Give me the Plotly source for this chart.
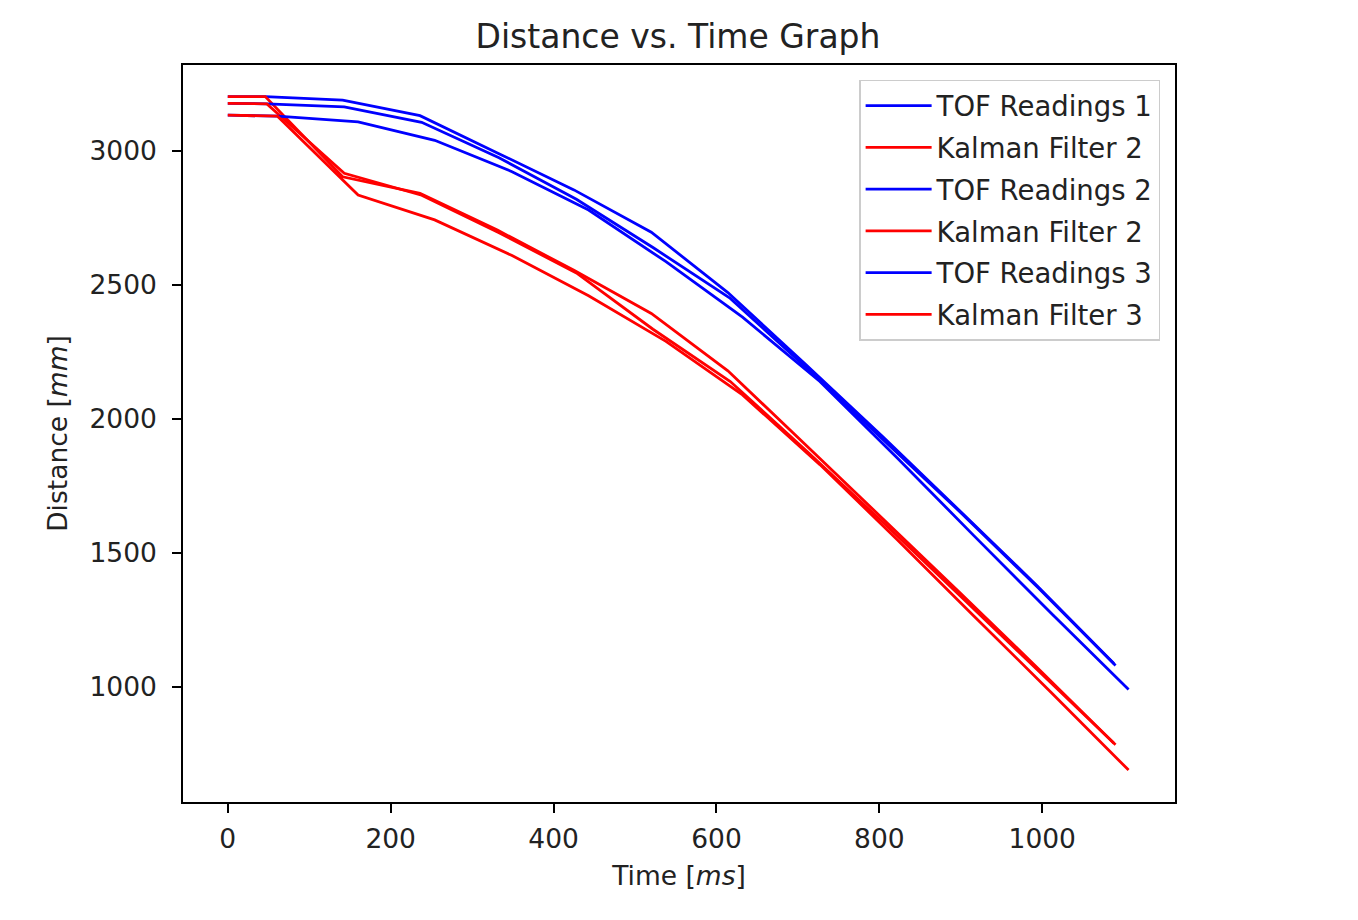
import plotly.graph_objects as go

# время (мс) для трёх заездов
time_1 = [0, 46, 141, 236, 331, 425, 520, 614, 709, 804, 898, 993, 1088]
time_2 = [0, 48, 143, 238, 333, 428, 522, 617, 711, 806, 901, 995, 1090]
time_3 = [0, 61, 160, 254, 349, 443, 538, 632, 727, 822, 916, 1011, 1106]

# показания датчика TOF (мм)
tof_1 = [3203, 3203, 3190, 3132, 2993, 2855, 2697, 2472, 2205, 1935, 1660, 1380, 1088]
tof_2 = [3178, 3176, 3165, 3107, 2975, 2820, 2640, 2450, 2190, 1920, 1648, 1370, 1080]
tof_3 = [3134, 3130, 3109, 3040, 2923, 2780, 2587, 2380, 2140, 1855, 1565, 1275, 991]

# фильтр Калмана (мм)
kf_1 = [3203, 3203, 2904, 2842, 2705, 2555, 2394, 2180, 1905, 1630, 1355, 1075, 790]
kf_2 = [3178, 3176, 2917, 2835, 2695, 2545, 2335, 2140, 1880, 1610, 1335, 1060, 785]
kf_3 = [3134, 3130, 2836, 2743, 2610, 2460, 2290, 2090, 1830, 1550, 1265, 980, 690]

series = [
    (time_1, tof_1, 'TOF Readings 1', 'blue'),
    (time_1, kf_1, 'Kalman Filter 2', 'red'),
    (time_2, tof_2, 'TOF Readings 2', 'blue'),
    (time_2, kf_2, 'Kalman Filter 2', 'red'),
    (time_3, tof_3, 'TOF Readings 3', 'blue'),
    (time_3, kf_3, 'Kalman Filter 3', 'red'),
]

fig = go.Figure()
for i, (t, d, name, color) in enumerate(series):
    fig.add_trace(go.Scatter(x=t, y=d, mode='lines', name=name, legendgroup=str(i),
                             line=dict(color=color, width=2.8)))

axis_style = dict(showline=True, linecolor='black', linewidth=1.5, mirror=True,
                  ticks='outside', ticklen=9, tickwidth=1.5, tickcolor='black',
                  showgrid=False, zeroline=False,
                  tickfont=dict(size=26.5, color='#222'))

# страница сдвинута на 8px отступом body, поэтому поля подобраны с учётом этого
fig.update_layout(
    width=1358, height=920,
    font=dict(family='DejaVu Sans', color='#222'),
    title=dict(text='Distance vs. Time Graph', x=(678 - 8) / 1358, xanchor='center',
               y=1 - 28 / 920, yanchor='middle', font=dict(size=33)),
    plot_bgcolor='white', paper_bgcolor='white',
    margin=dict(l=175, r=191, t=57, b=126),
    xaxis=dict(range=[-55, 1163], tickvals=[0, 200, 400, 600, 800, 1000],
               ticklabelstandoff=3,
               title=dict(text='Time [<i>ms</i>]', font=dict(size=26.5), standoff=14),
               **axis_style),
    yaxis=dict(range=[571, 3321], tickvals=[1000, 1500, 2000, 2500, 3000],
               ticklabelstandoff=10,
               title=dict(text='Distance [<i>mm</i>]', font=dict(size=26.5), standoff=14),
               **axis_style),
    legend=dict(x=0.985, y=0.98, xanchor='right', yanchor='top',
                bgcolor='rgba(255,255,255,0.8)', bordercolor='#cccccc', borderwidth=1.5,
                font=dict(size=27.5), tracegroupgap=3, itemwidth=66),
)

fig.write_html("out.html")
